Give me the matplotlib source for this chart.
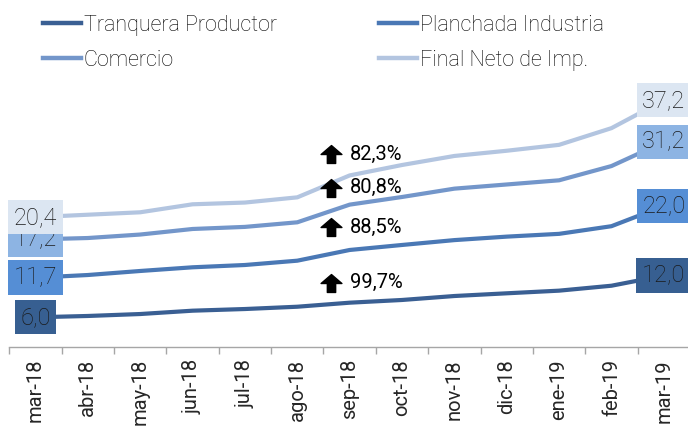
import matplotlib
matplotlib.use("Agg")
import matplotlib.pyplot as plt
from matplotlib.path import Path
from matplotlib.transforms import offset_copy
from matplotlib.lines import Line2D

plt.rcParams['font.family'] = ['Roboto', 'DejaVu Sans']
plt.rcParams['font.weight'] = 'light'

months = ["mar-18", "abr-18", "may-18", "jun-18", "jul-18", "ago-18", "sep-18",
          "oct-18", "nov-18", "dic-18", "ene-19", "feb-19", "mar-19"]

tranquera = [6.0, 6.19, 6.47, 6.95, 7.19, 7.52, 8.1, 8.49, 9.06, 9.45, 9.83, 10.54, 12.0]
planchada = [11.7, 12.08, 12.66, 13.19, 13.52, 14.14, 15.68, 16.4, 17.1, 17.6, 18.0, 19.1, 22.0]
comercio = [17.2, 17.4, 17.9, 18.7, 19.0, 19.66, 22.2, 23.3, 24.5, 25.1, 25.7, 27.75, 31.2]
final_neto = [20.4, 20.75, 21.1, 22.25, 22.5, 23.25, 26.4, 27.9, 29.2, 29.95, 30.8, 33.2, 37.2]

series_names = ["Tranquera Productor", "Planchada Industria", "Comercio", "Final Neto de Imp."]
pct_labels = ["99,7%", "88,5%", "80,8%", "82,3%"]

series = [tranquera, planchada, comercio, final_neto]
line_colors = ["#3A5F93", "#4A78B5", "#7396CA", "#B3C5E0"]
box_colors = ["#375F91", "#558ED5", "#8DB4E3", "#DCE6F2"]
pct_offsets_px = [20, 23, 17, 21]

fig = plt.figure(figsize=(6.88, 4.29), dpi=100)
W, H = 688, 429
ax = fig.add_axes([9.3 / W, (H - 346.5) / H, (690 - 9.3) / W, (346.5 - 60) / H])

x = list(range(len(months)))
for i, (vals, lc) in enumerate(zip(series, line_colors)):
    ax.plot(x, vals, color=lc, lw=3.0, solid_capstyle='butt', zorder=2)

# end labels
for i, (vals, bc) in enumerate(zip(series, box_colors)):
    for xi in (0, len(months) - 1):
        ax.text(xi, vals[xi], f"{vals[xi]:.1f}".replace('.', ','),
                ha='center', va='center', fontsize=17, color='#1a1a1a',
                fontweight='light', zorder=5 + i,
                bbox=dict(boxstyle='square,pad=0.24', fc=bc, ec='none'))

# arrows + pct annotations at sep-18
arrow_path = Path([(-0.2, -0.43), (0.2, -0.43), (0.2, 0.0), (0.5, 0.0), (0.0, 0.43),
                   (-0.5, 0.0), (-0.2, 0.0), (-0.2, -0.43)],
                  [Path.MOVETO] + [Path.LINETO] * 6 + [Path.CLOSEPOLY])
sep_idx = months.index("sep-18")
for vals, lab, dy in zip(series, pct_labels, pct_offsets_px):
    tr = offset_copy(ax.transData, fig=fig, x=-19, y=dy, units='dots')
    ax.plot([sep_idx], [vals[sep_idx]], marker=arrow_path, markersize=15,
            color='black', transform=tr, zorder=10, linestyle='none')
    tr2 = offset_copy(ax.transData, fig=fig, x=0, y=dy, units='dots')
    ax.text(sep_idx, vals[sep_idx], lab, transform=tr2, ha='left', va='center',
            fontsize=14.5, color='black', fontweight='normal', zorder=10)

ax.set_xlim(-0.5, len(months) - 0.5)
ax.set_ylim(1.8, 43.0)

for s in ['top', 'right', 'left']:
    ax.spines[s].set_visible(False)
ax.spines['bottom'].set_color('#A6A6A6')
ax.spines['bottom'].set_linewidth(1.0)
ax.set_yticks([])
ax.set_xticks(x)
ax.set_xticklabels(months, rotation=90, fontsize=14.5, color='#262626', fontweight='normal')
ax.tick_params(axis='x', which='major', length=0, pad=9)
ax.set_xticks([v - 0.5 for v in range(len(months) + 1)], minor=True)
ax.tick_params(axis='x', which='minor', length=5, width=1, color='#A6A6A6')

handles = [Line2D([], [], color=c, lw=3.2) for c in line_colors]
leg_kw = dict(loc='upper left', frameon=False, handlelength=1.75, handletextpad=0.15,
              labelspacing=0.65, borderpad=0, borderaxespad=0,
              prop={'size': 15.5, 'weight': 'light'})
leg1 = fig.legend([handles[0], handles[2]], [series_names[0], series_names[2]],
                  bbox_to_anchor=(43 / W, 1 - 15 / H), **leg_kw)
leg2 = fig.legend([handles[1], handles[3]], [series_names[1], series_names[3]],
                  bbox_to_anchor=(379 / W, 1 - 15 / H), **leg_kw)

fig.savefig("out.png", dpi=100)
